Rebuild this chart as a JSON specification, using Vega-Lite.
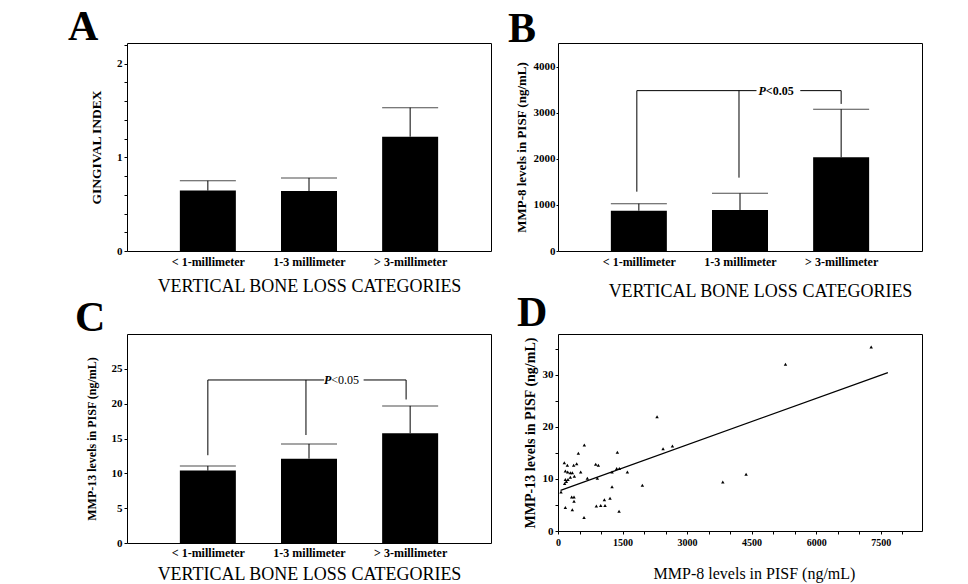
{
  "$schema": "https://vega.github.io/schema/vega-lite/v6.json",
  "background": "white",
  "padding": {"left": 67, "top": 5, "right": 5, "bottom": 0},
  "config": {
    "font": "Liberation Serif",
    "view": {"stroke": "black", "strokeWidth": 1},
    "axis": {
      "grid": false, "domain": false, "tickColor": "black", "labelColor": "black", "titleColor": "black",
      "labelFont": "Liberation Serif", "titleFont": "Liberation Serif", "labelFontWeight": "bold",
      "labelFontSize": 11, "tickSize": 3, "labelPadding": 2, "labelOverlap": false, "labelFlush": false
    },
    "title": {"font": "Liberation Serif", "fontSize": 42, "fontWeight": "bold", "anchor": "start", "frame": "group", "color": "black", "baseline": "alphabetic"}
  },
  "columns": 2,
  "bounds": "flush",
  "spacing": {"row": 83, "column": 67},
  "center": {"row": true, "column": false},
  "concat": [
    {
      "width": 364, "height": 208,
      "title": {"text": "A", "dx": -59, "offset": -10},
      "data": {"values": [
        {"pos": 1, "mean": 0.645, "upper": 0.75},
        {"pos": 2, "mean": 0.64, "upper": 0.78},
        {"pos": 3, "mean": 1.22, "upper": 1.53}
      ]},
      "encoding": {
        "x": {"field": "pos", "type": "quantitative", "scale": {"domain": [0.25, 3.75], "nice": false, "zero": false},
          "axis": {"values": [1, 2, 3], "ticks": false, "labelPadding": 5, "labelFontSize": 12, "labelOverlap": false,
            "labelExpr": "datum.value == 1 ? '< 1-millimeter' : datum.value == 2 ? '1-3 millimeter' : '> 3-millimeter'",
            "title": "VERTICAL BONE LOSS CATEGORIES", "titleFontSize": 18, "titleFontWeight": "normal", "titlePadding": 10}}
      },
      "layer": [
        {"mark": {"type": "bar", "orient": "vertical", "width": 56, "color": "black"},
          "encoding": {"y": {"field": "mean", "type": "quantitative", "scale": {"domain": [0, 2.22], "nice": false},
            "axis": {"values": [0, 0.2, 0.4, 0.6, 0.8, 1, 1.2, 1.4, 1.6, 1.8, 2, 2.2], "labelOverlap": false,
              "labelExpr": "abs(datum.value - round(datum.value)) < 0.01 ? format(datum.value, 'd') : ''",
              "title": "GINGIVAL INDEX", "titleFontSize": 13.5, "titleFontWeight": "bold", "titlePadding": 13}}}},
        {"mark": {"type": "rule", "color": "black", "strokeWidth": 1},
          "encoding": {"y": {"field": "mean", "type": "quantitative", "scale": {"domain": [0, 2.22], "nice": false},
            "axis": {"values": [0, 0.2, 0.4, 0.6, 0.8, 1, 1.2, 1.4, 1.6, 1.8, 2, 2.2], "labelOverlap": false,
              "labelExpr": "abs(datum.value - round(datum.value)) < 0.01 ? format(datum.value, 'd') : ''",
              "title": "GINGIVAL INDEX", "titleFontSize": 13.5, "titleFontWeight": "bold", "titlePadding": 13}}, "y2": {"field": "upper"}}},
        {"mark": {"type": "tick", "orient": "horizontal", "size": 56, "thickness": 1, "color": "black"},
          "encoding": {"y": {"field": "upper", "type": "quantitative", "scale": {"domain": [0, 2.22], "nice": false},
            "axis": {"values": [0, 0.2, 0.4, 0.6, 0.8, 1, 1.2, 1.4, 1.6, 1.8, 2, 2.2], "labelOverlap": false,
              "labelExpr": "abs(datum.value - round(datum.value)) < 0.01 ? format(datum.value, 'd') : ''",
              "title": "GINGIVAL INDEX", "titleFontSize": 13.5, "titleFontWeight": "bold", "titlePadding": 13}}}}
      ]
    },
    {
      "width": 364, "height": 208,
      "title": {"text": "B", "dx": -50, "offset": -8},
      "encoding": {
        "x": {"field": "pos", "type": "quantitative", "scale": {"domain": [0.25, 3.75], "nice": false, "zero": false},
          "axis": {"values": [1, 2, 3], "ticks": false, "labelPadding": 5, "labelFontSize": 12, "labelOverlap": false,
            "labelExpr": "datum.value == 1 ? '< 1-millimeter' : datum.value == 2 ? '1-3 millimeter' : '> 3-millimeter'",
            "title": "VERTICAL BONE LOSS CATEGORIES", "titleFontSize": 18, "titleFontWeight": "normal", "titlePadding": 15, "titleX": 202}}
      },
      "layer": [
        {"data": {"name": "barsB", "values": [
            {"pos": 1, "mean": 876, "upper": 1028},
            {"pos": 2, "mean": 891, "upper": 1254},
            {"pos": 3, "mean": 2037, "upper": 3080}
          ]},
          "layer": [
            {"mark": {"type": "bar", "orient": "vertical", "width": 56, "color": "black"},
              "encoding": {"y": {"field": "mean", "type": "quantitative", "scale": {"domain": [0, 4520], "nice": false},
                "axis": {"values": [0, 500, 1000, 1500, 2000, 2500, 3000, 3500, 4000, 4500], "labelOverlap": false,
                  "labelExpr": "datum.value % 1000 == 0 ? format(datum.value, 'd') : ''", "labelPadding": 1, "tickSize": 2,
                  "title": "MMP-8 levels in PISF (ng/mL)", "titleFontSize": 13, "titleFontWeight": "bold", "titlePadding": 5}}}},
            {"mark": {"type": "rule", "color": "black"},
              "encoding": {"y": {"field": "mean", "type": "quantitative", "scale": {"domain": [0, 4520], "nice": false}, "title": "MMP-8 levels in PISF (ng/mL)"}, "y2": {"field": "upper"}}},
            {"mark": {"type": "tick", "orient": "horizontal", "size": 56, "thickness": 1, "color": "black"},
              "encoding": {"y": {"field": "upper", "type": "quantitative", "scale": {"domain": [0, 4520], "nice": false}, "title": "MMP-8 levels in PISF (ng/mL)"}}}
          ]
        },
        {"data": {"values": [
            {"pos": 0.98, "pos2": 2.163, "lo": 3485, "hi": 3485},
            {"pos": 2.596, "pos2": 3, "lo": 3485, "hi": 3485},
            {"pos": 0.98, "pos2": 0.98, "lo": 1289, "hi": 3485},
            {"pos": 1.99, "pos2": 1.99, "lo": 1594, "hi": 3485},
            {"pos": 3, "pos2": 3, "lo": 3196, "hi": 3485}
          ]},
          "mark": {"type": "rule", "color": "black", "strokeWidth": 1},
          "encoding": {"x2": {"field": "pos2"}, "y": {"field": "lo", "type": "quantitative", "scale": {"domain": [0, 4520], "nice": false}, "title": "MMP-8 levels in PISF (ng/mL)"}, "y2": {"field": "hi"}}},
        {"data": {"values": [{"pos": 2.255, "lvl": 3485}]},
          "layer": [
            {"mark": {"type": "text", "align": "right", "baseline": "middle", "fontStyle": "italic", "fontWeight": "bold", "fontSize": 12, "font": "Liberation Serif", "color": "black"},
              "encoding": {"y": {"field": "lvl", "type": "quantitative", "scale": {"domain": [0, 4520], "nice": false}, "title": "MMP-8 levels in PISF (ng/mL)"}, "text": {"value": "P"}}},
            {"mark": {"type": "text", "align": "left", "baseline": "middle", "fontWeight": "bold", "fontSize": 12, "font": "Liberation Serif", "color": "black"},
              "encoding": {"y": {"field": "lvl", "type": "quantitative", "scale": {"domain": [0, 4520], "nice": false}, "title": "MMP-8 levels in PISF (ng/mL)"}, "text": {"value": "<0.05"}}}
          ]
        }
      ]
    },
    {
      "width": 364, "height": 209,
      "title": {"text": "C", "dx": -52, "offset": -6},
      "encoding": {
        "x": {"field": "pos", "type": "quantitative", "scale": {"domain": [0.25, 3.75], "nice": false, "zero": false},
          "axis": {"values": [1, 2, 3], "ticks": false, "labelPadding": 4, "labelFontSize": 12, "labelOverlap": false,
            "labelExpr": "datum.value == 1 ? '< 1-millimeter' : datum.value == 2 ? '1-3 millimeter' : '> 3-millimeter'",
            "title": "VERTICAL BONE LOSS CATEGORIES", "titleFontSize": 18, "titleFontWeight": "normal", "titlePadding": 7}}
      },
      "layer": [
        {"data": {"values": [
            {"pos": 1, "mean": 10.39, "upper": 11.06},
            {"pos": 2, "mean": 12.11, "upper": 14.22},
            {"pos": 3, "mean": 15.76, "upper": 19.68}
          ]},
          "layer": [
            {"mark": {"type": "bar", "orient": "vertical", "width": 56, "color": "black"},
              "encoding": {"y": {"field": "mean", "type": "quantitative", "scale": {"domain": [0, 30], "nice": false},
                "axis": {"values": [0, 5, 10, 15, 20, 25], "labelOverlap": false,
                  "title": "MMP-13 levels in PISF (ng/mL)", "titleFontSize": 12, "titleFontWeight": "bold", "titlePadding": 13}}}},
            {"mark": {"type": "rule", "color": "black"},
              "encoding": {"y": {"field": "mean", "type": "quantitative", "scale": {"domain": [0, 30], "nice": false}, "title": "MMP-13 levels in PISF (ng/mL)"}, "y2": {"field": "upper"}}},
            {"mark": {"type": "tick", "orient": "horizontal", "size": 56, "thickness": 1, "color": "black"},
              "encoding": {"y": {"field": "upper", "type": "quantitative", "scale": {"domain": [0, 30], "nice": false}, "title": "MMP-13 levels in PISF (ng/mL)"}}}
          ]
        },
        {"data": {"values": [
            {"pos": 1, "pos2": 2.15, "lo": 23.4, "hi": 23.4},
            {"pos": 2.54, "pos2": 2.96, "lo": 23.4, "hi": 23.4},
            {"pos": 1, "pos2": 1, "lo": 12.6, "hi": 23.4},
            {"pos": 1.97, "pos2": 1.97, "lo": 15.5, "hi": 23.4},
            {"pos": 2.96, "pos2": 2.96, "lo": 20.6, "hi": 23.4}
          ]},
          "mark": {"type": "rule", "color": "black", "strokeWidth": 1},
          "encoding": {"x2": {"field": "pos2"}, "y": {"field": "lo", "type": "quantitative", "scale": {"domain": [0, 30], "nice": false}, "title": "MMP-13 levels in PISF (ng/mL)"}, "y2": {"field": "hi"}}},
        {"data": {"values": [{"pos": 2.22, "lvl": 23.4}]},
          "layer": [
            {"mark": {"type": "text", "align": "right", "baseline": "middle", "fontStyle": "italic", "fontWeight": "bold", "fontSize": 12, "font": "Liberation Serif", "color": "black"},
              "encoding": {"y": {"field": "lvl", "type": "quantitative", "scale": {"domain": [0, 30], "nice": false}, "title": "MMP-13 levels in PISF (ng/mL)"}, "text": {"value": "P"}}},
            {"mark": {"type": "text", "align": "left", "baseline": "middle", "fontSize": 12, "font": "Liberation Serif", "color": "black"},
              "encoding": {"y": {"field": "lvl", "type": "quantitative", "scale": {"domain": [0, 30], "nice": false}, "title": "MMP-13 levels in PISF (ng/mL)"}, "text": {"value": "<0.05"}}}
          ]
        }
      ]
    },
    {
      "width": 364, "height": 197,
      "title": {"text": "D", "dx": -41, "offset": -1},
      "encoding": {
        "x": {"field": "mmp8", "type": "quantitative", "scale": {"domain": [0, 8460], "nice": false, "zero": false},
          "axis": {"values": [0, 500, 1000, 1500, 2000, 2500, 3000, 3500, 4000, 4500, 5000, 5500, 6000, 6500, 7000, 7500, 8000], "labelOverlap": false,
            "labelExpr": "datum.value % 1500 == 0 ? format(datum.value, 'd') : ''", "labelFontSize": 10, "labelPadding": 3,
            "title": "MMP-8 levels in PISF (ng/mL)", "titleFontSize": 16, "titleFontWeight": "normal", "titlePadding": 18, "titleX": 196}},
        "y": {"field": "mmp13", "type": "quantitative", "scale": {"domain": [0, 37.8], "nice": false},
          "axis": {"values": [0, 5, 10, 15, 20, 25, 30, 35], "labelOverlap": false, "labelExpr": "datum.value % 10 == 0 ? format(datum.value, 'd') : ''",
            "title": "MMP-13 levels in PISF (ng/mL)", "titleFontSize": 14, "titleFontWeight": "bold", "titlePadding": 5}}
      },
      "layer": [
        {"data": {"values": [
            {"mmp8": 2302, "mmp13": 21.9}, {"mmp8": 612, "mmp13": 16.5}, {"mmp8": 2442, "mmp13": 15.8}, {"mmp8": 2659, "mmp13": 16.3},
            {"mmp8": 473, "mmp13": 14.9}, {"mmp8": 1380, "mmp13": 15.1}, {"mmp8": 147, "mmp13": 13.1}, {"mmp8": 217, "mmp13": 12.6},
            {"mmp8": 364, "mmp13": 12.6}, {"mmp8": 434, "mmp13": 12.9}, {"mmp8": 876, "mmp13": 12.8}, {"mmp8": 938, "mmp13": 12.6},
            {"mmp8": 171, "mmp13": 11.5}, {"mmp8": 225, "mmp13": 11.3}, {"mmp8": 287, "mmp13": 11.2}, {"mmp8": 333, "mmp13": 11.2},
            {"mmp8": 527, "mmp13": 11.3}, {"mmp8": 171, "mmp13": 9.9}, {"mmp8": 232, "mmp13": 9.9}, {"mmp8": 287, "mmp13": 10.3},
            {"mmp8": 380, "mmp13": 10.5}, {"mmp8": 682, "mmp13": 10.1}, {"mmp8": 915, "mmp13": 10.1}, {"mmp8": 1364, "mmp13": 12.0},
            {"mmp8": 1426, "mmp13": 12.0}, {"mmp8": 1256, "mmp13": 11.3}, {"mmp8": 1612, "mmp13": 11.3}, {"mmp8": 1961, "mmp13": 8.8},
            {"mmp8": 1256, "mmp13": 8.5}, {"mmp8": 155, "mmp13": 9.1}, {"mmp8": 194, "mmp13": 9.5}, {"mmp8": 70, "mmp13": 7.5},
            {"mmp8": 318, "mmp13": 6.5}, {"mmp8": 372, "mmp13": 6.5}, {"mmp8": 372, "mmp13": 5.7}, {"mmp8": 1078, "mmp13": 6.0},
            {"mmp8": 1209, "mmp13": 6.3}, {"mmp8": 171, "mmp13": 4.5}, {"mmp8": 333, "mmp13": 4.1}, {"mmp8": 891, "mmp13": 4.8},
            {"mmp8": 993, "mmp13": 4.9}, {"mmp8": 1093, "mmp13": 4.9}, {"mmp8": 1419, "mmp13": 3.8}, {"mmp8": 605, "mmp13": 2.6},
            {"mmp8": 5287, "mmp13": 32.0}, {"mmp8": 7279, "mmp13": 35.3}, {"mmp8": 3830, "mmp13": 9.4}, {"mmp8": 4372, "mmp13": 10.9}
          ]},
          "mark": {"type": "point", "shape": "triangle-up", "filled": true, "size": 12, "color": "black", "opacity": 1}},
        {"data": {"values": [{"mmp8": 60, "mmp13": 7.8}, {"mmp8": 7667, "mmp13": 30.4}]},
          "mark": {"type": "line", "color": "black", "strokeWidth": 1.2}}
      ]
    }
  ]
}
